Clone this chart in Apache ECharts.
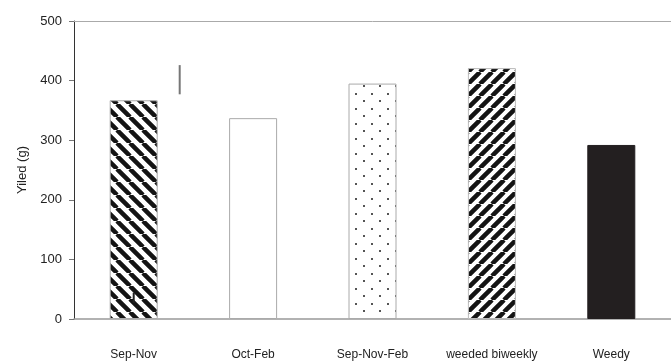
<!DOCTYPE html>
<html>
<head>
<meta charset="utf-8">
<script src="https://cdn.jsdelivr.net/npm/echarts@6/dist/echarts.min.js"></script>
<style>
  html, body { margin: 0; padding: 0; background: #fff; }
  #chart { width: 671px; height: 362px; }
</style>
</head>
<body>
<div id="chart"></div>
<script>
// Treatments and yields
const categories = ['Sep-Nov', 'Oct-Feb', 'Sep-Nov-Feb', 'weeded biweekly', 'Weedy'];
const yieldValues = [367, 337, 395, 421, 292];
const yTicks = [0, 100, 200, 300, 400, 500];
// Error whiskers: [category index, low, high]
const errorBars = [[0, 27, 44], [0, 377, 426]];

// Tile makers for the bar fills
function stripeTile(size, width, dir) {
  const c = document.createElement('canvas');
  c.width = size; c.height = size;
  const g = c.getContext('2d');
  g.fillStyle = '#fff';
  g.fillRect(0, 0, size, size);
  g.strokeStyle = '#141414';
  g.lineWidth = width;
  g.beginPath();
  for (let k = -1; k <= 1; k++) {
    if (dir === 'down') {
      g.moveTo(k * size, 0); g.lineTo(k * size + size, size);
    } else {
      g.moveTo(k * size, size); g.lineTo(k * size + size, 0);
    }
  }
  g.stroke();
  return c;
}
function dotTile() {
  const c = document.createElement('canvas');
  c.width = 16; c.height = 15;
  const g = c.getContext('2d');
  g.fillStyle = '#fff';
  g.fillRect(0, 0, 16, 15);
  g.fillStyle = '#555';
  g.fillRect(3, 3, 2, 2);
  g.fillRect(11, 10, 2, 2);
  return c;
}

const fills = [
  { image: stripeTile(13, 4.5, 'down'), repeat: 'repeat' },
  '#ffffff',
  { image: dotTile(), repeat: 'repeat' },
  { image: stripeTile(12, 4.5, 'up'), repeat: 'repeat' },
  '#231f20'
];
const borders = ['#aaaaaa', '#aaaaaa', '#aaaaaa', '#bbbbbb', '#231f20'];

const chart = echarts.init(document.getElementById('chart'), null, { renderer: 'canvas' });
const font = 'Liberation Sans, Arial, sans-serif';

chart.setOption({
  animation: false,
  backgroundColor: '#fff',
  grid: { left: 74, top: 21, width: 598, height: 298 },
  xAxis: [{
    type: 'category',
    data: categories,
    axisLine: { lineStyle: { color: '#999', width: 1.5 } },
    axisTick: { show: false },
    axisLabel: { margin: 30, fontSize: 12, color: '#222', fontFamily: font, interval: 0 }
  }, {
    type: 'category',
    position: 'top',
    data: categories,
    axisLine: { lineStyle: { color: '#aaa', width: 1 } },
    axisTick: { show: false },
    axisLabel: { show: false }
  }],
  yAxis: {
    type: 'value',
    min: yTicks[0],
    max: yTicks[yTicks.length - 1],
    interval: 100,
    name: 'Yiled (g)',
    nameLocation: 'middle',
    nameGap: 45,
    nameTextStyle: { fontSize: 13, color: '#222', fontFamily: font },
    axisLine: { show: true, lineStyle: { color: '#333', width: 1 } },
    axisTick: { show: true, length: 5, lineStyle: { color: '#777' } },
    axisLabel: { margin: 12, fontSize: 13, color: '#222', fontFamily: font },
    splitLine: { show: false }
  },
  series: [{
    type: 'bar',
    barWidth: 48,
    data: yieldValues.map((v, i) => ({
      value: v,
      itemStyle: { color: fills[i], borderColor: borders[i], borderWidth: 1 }
    }))
  }, {
    type: 'custom',
    data: errorBars,
    renderItem: function (params, api) {
      const idx = params.dataIndex;
      const low = api.coord([api.value(0), api.value(1)]);
      const high = api.coord([api.value(0), api.value(2)]);
      const shift = idx === 0 ? 0 : 46;
      const color = idx === 0 ? '#222' : '#777';
      return {
        type: 'line',
        shape: { x1: low[0] + shift, y1: low[1], x2: high[0] + shift, y2: high[1] },
        style: { stroke: color, lineWidth: 2 }
      };
    },
    z: 5
  }]
});
</script>
</body>
</html>
